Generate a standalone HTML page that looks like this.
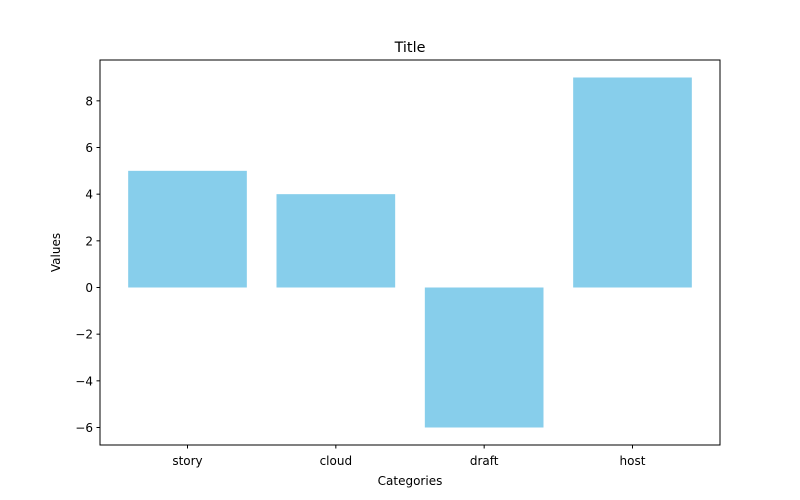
<!DOCTYPE html>
<html><head><meta charset="utf-8"><style>
html,body{margin:0;padding:0;background:#fff;width:800px;height:500px;overflow:hidden;}
svg{display:block;}
text{font-family:"DejaVu Sans","Liberation Sans",sans-serif;fill:#000;}
</style></head><body>
<svg id="chart" width="800" height="500" xmlns="http://www.w3.org/2000/svg">
<rect width="800" height="500" fill="#fff"/>
<g id="plot"></g>
</svg>
<script>
const categories = ["story","cloud","draft","host"];
const values = [5,4,-6,9];
const yTicks = [-6,-4,-2,0,2,4,6,8];
const yTickLabels = ["\u22126","\u22124","\u22122","0","2","4","6","8"];

const L=100,R=720,T=60,B=445;
const vmin=Math.min(0,...values), vmax=Math.max(0,...values);
const ypad=(vmax-vmin)*0.05;
const y0=vmin-ypad, y1=vmax+ypad;
const xmin=-0.4-(categories.length-0.2)*0.05, xmax=categories.length-0.6+(categories.length-0.2)*0.05;
const xs=v=>L+(v-xmin)/(xmax-xmin)*(R-L);
const ys=v=>B-(v-y0)/(y1-y0)*(B-T);
const NS="http://www.w3.org/2000/svg";
const g=document.getElementById('plot');
function mk(tag,attrs,txt){const e=document.createElementNS(NS,tag);for(const k in attrs)e.setAttribute(k,attrs[k]);if(txt!==undefined)e.textContent=txt;g.appendChild(e);return e;}

values.forEach((v,i)=>{
  const r=mk('rect',{x:xs(i-0.4),y:ys(Math.max(v,0)),width:xs(i+0.4)-xs(i-0.4),height:Math.abs(ys(v)-ys(0)),fill:'#87ceeb'});
  
  
});
const frame=mk('rect',{x:L,y:T,width:R-L,height:B-T,fill:'none',stroke:'#000','stroke-width':1});



categories.forEach((c,i)=>{
  const x=xs(i);
  const t=mk('line',{x1:x,x2:x,y1:B,y2:B+3.5,stroke:'#000'});
  
  
  const l=mk('text',{x:x,y:B+20,'text-anchor':'middle','font-size':'12'},c);
  
  
});
yTicks.forEach((v,i)=>{
  const y=ys(v);
  const t=mk('line',{x1:L-3.5,x2:L,y1:y,y2:y,stroke:'#000'});
  
  
  const l=mk('text',{x:L-7,y:y+4.5,'text-anchor':'end','font-size':'12'},yTickLabels[i]);
  
  
});
const title=mk('text',{x:(L+R)/2,y:T-8,'text-anchor':'middle','font-size':'14.4'},'Title');


const xl=mk('text',{x:(L+R)/2,y:485,'text-anchor':'middle','font-size':'12'},'Categories');


const yl=mk('text',{x:0,y:0,'text-anchor':'middle','font-size':'12',transform:'translate(60,'+((T+B)/2)+') rotate(-90)'},'Values');


</script>
</body></html>
